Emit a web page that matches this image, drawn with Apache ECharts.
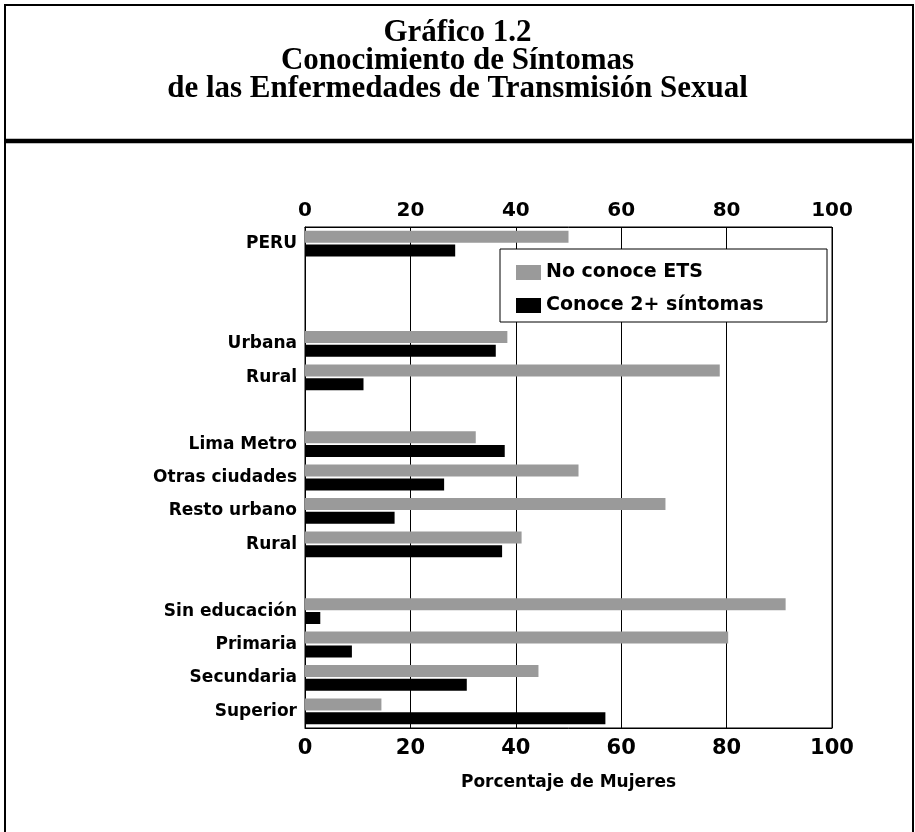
<!DOCTYPE html>
<html>
<head>
<meta charset="utf-8">
<script src="https://cdn.jsdelivr.net/npm/echarts@6/dist/echarts.min.js"></script>
<style>
  html, body { margin: 0; padding: 0; background: #fff; }
  #chart { width: 915px; height: 832px; }
</style>
</head>
<body>
<div id="chart"></div>
<script>
// rows of the chart, blank strings are the spacer rows between groups
const categories = ['PERU', ' ', '  ', 'Urbana', 'Rural', '   ',
  'Lima Metro', 'Otras ciudades', 'Resto urbano', 'Rural', '    ',
  'Sin educación', 'Primaria', 'Secundaria', 'Superior'];

const noConoce = [50, null, null, 38.4, 78.7, null,
  32.4, 51.9, 68.4, 41.1, null,
  91.2, 80.3, 44.3, 14.5];

const conoce2 = [28.5, null, null, 36.2, 11.1, null,
  37.9, 26.4, 17.0, 37.4, null,
  2.9, 8.9, 30.7, 57.0];

const xTicks = [0, 20, 40, 60, 80, 100];

const wide = 'DejaVu Sans';

const chart = echarts.init(document.getElementById('chart'));

chart.setOption({
  animation: false,
  backgroundColor: '#fff',
  title: {
    text: 'Gráfico 1.2\nConocimiento de Síntomas\nde las Enfermedades de Transmisión Sexual',
    left: 'center',
    top: 14,
    textStyle: {
      fontFamily: 'Liberation Serif',
      fontWeight: 'bold',
      fontSize: 31,
      lineHeight: 28,
      color: '#000'
    }
  },
  graphic: [
    {
      type: 'rect',
      shape: { x: 5, y: 5, width: 908, height: 900 },
      style: { fill: null, stroke: '#000', lineWidth: 2 },
      silent: true
    },
    {
      type: 'line',
      shape: { x1: 5, y1: 141, x2: 913, y2: 141 },
      style: { stroke: '#000', lineWidth: 4.5 },
      silent: true
    },
    {
      type: 'rect',
      shape: { x: 500, y: 249, width: 327, height: 73 },
      style: { fill: '#fff', stroke: '#000', lineWidth: 1 },
      z: 10,
      silent: true
    }
  ],
  legend: {
    orient: 'vertical',
    left: 516,
    top: 263,
    padding: 0,
    itemWidth: 25,
    itemHeight: 15,
    itemGap: 14,
    z: 20,
    icon: 'rect',
    textStyle: { fontFamily: wide, fontWeight: 'bold', fontSize: 19, color: '#000' },
    data: ['No conoce ETS', 'Conoce 2+ síntomas']
  },
  grid: {
    left: 305,
    right: 83,
    top: 227,
    bottom: 104,
    show: true,
    borderColor: '#000',
    borderWidth: 1
  },
  xAxis: [
    {
      type: 'value',
      position: 'top',
      min: 0,
      max: 100,
      interval: 20,
      axisLine: { show: true, lineStyle: { color: '#000' } },
      axisTick: { show: false },
      splitLine: { show: true, lineStyle: { color: '#000', width: 1 } },
      axisLabel: {
        margin: 6,
        color: '#000',
        fontFamily: wide,
        fontWeight: 'bold',
        fontSize: 20,
        formatter: v => xTicks.includes(v) ? String(v) : ''
      }
    },
    {
      type: 'value',
      position: 'bottom',
      min: 0,
      max: 100,
      interval: 20,
      name: 'Porcentaje de Mujeres',
      nameLocation: 'middle',
      nameGap: 46,
      nameTextStyle: { fontFamily: wide, fontWeight: 'bold', fontSize: 17, color: '#000' },
      axisLine: { show: true, lineStyle: { color: '#000' } },
      axisTick: { show: false },
      splitLine: { show: false },
      axisLabel: {
        margin: 10,
        color: '#000',
        fontFamily: wide,
        fontWeight: 'bold',
        fontSize: 21
      }
    }
  ],
  yAxis: {
    type: 'category',
    inverse: true,
    data: categories,
    axisLine: { show: true, lineStyle: { color: '#000' } },
    axisTick: { show: false },
    axisLabel: {
      margin: 8,
      color: '#000',
      fontFamily: wide,
      fontWeight: 'bold',
      fontSize: 17,
      verticalAlign: 'middle'
    }
  },
  series: [
    {
      name: 'No conoce ETS',
      type: 'bar',
      xAxisIndex: 0,
      data: noConoce,
      barWidth: 12,
      barGap: '15%',
      itemStyle: { color: '#9a9a9a' }
    },
    {
      name: 'Conoce 2+ síntomas',
      type: 'bar',
      xAxisIndex: 0,
      data: conoce2,
      barWidth: 12,
      barGap: '15%',
      itemStyle: { color: '#000' }
    }
  ]
});
</script>
</body>
</html>
